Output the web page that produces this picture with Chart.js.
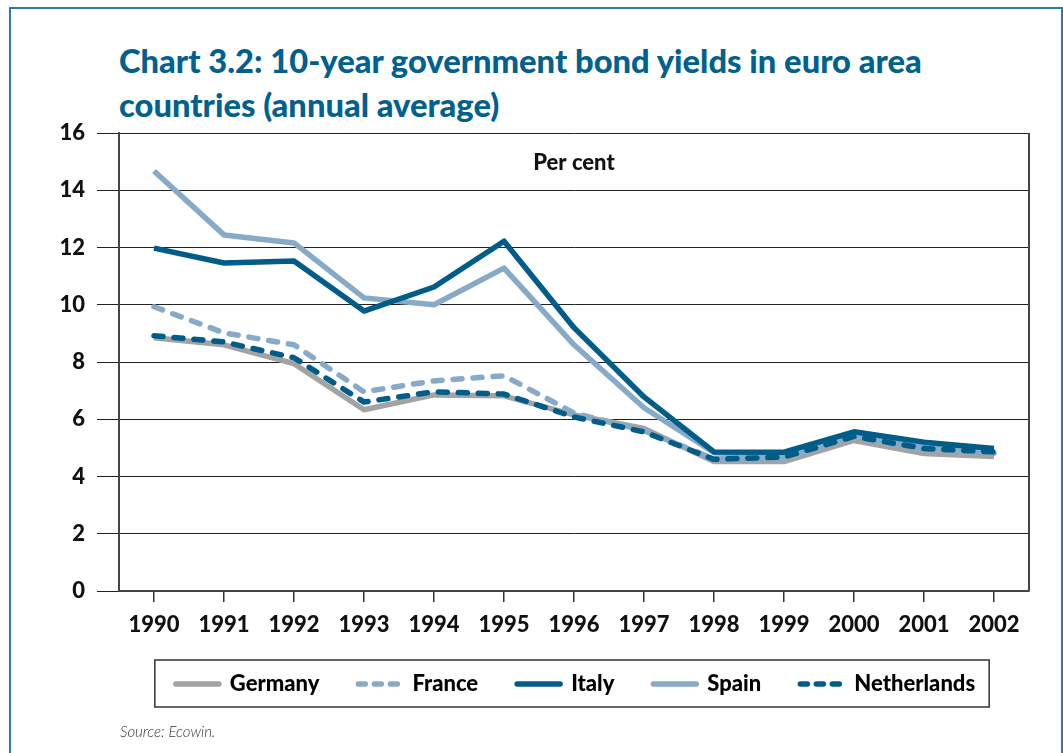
<!DOCTYPE html>
<html>
<head>
<meta charset="utf-8">
<script src="https://cdn.jsdelivr.net/npm/chart.js@4.4.1/dist/chart.umd.min.js"></script>
<style>
  html, body { margin: 0; padding: 0; background: #fff; }
  #wrap { position: relative; width: 1063px; height: 753px; overflow: hidden; }
  #frame { position: absolute; left: 9px; top: 7px; width: 1050px; height: 800px; border: 2px solid #2f7aa3; }
  #title { position: absolute; left: 119px; top: 39px; font-family: Lato, sans-serif; font-weight: 900;
           font-size: 32.7px; line-height: 44px; color: #00608e; }
  #source { position: absolute; left: 120px; top: 722px; font-family: Lato, sans-serif; font-style: italic;
            font-weight: 300; font-size: 15px; color: #333; }
  canvas { position: absolute; left: 0; top: 0; }
</style>
</head>
<body>
<div id="wrap">
  <div id="frame"></div>
  <div id="title">Chart 3.2: 10-year government bond yields in euro area<br>countries (annual average)</div>
  <canvas id="graphCanvas" width="1063" height="753"></canvas>
  <div id="source">Source: Ecowin.</div>
</div>
<script>
var years = ['1990', '1991', '1992', '1993', '1994', '1995', '1996', '1997', '1998', '1999', '2000', '2001', '2002'];
var germany     = [8.85, 8.6, 7.94, 6.33, 6.85, 6.82, 6.15, 5.68, 4.52, 4.52, 5.26, 4.8, 4.7];
var france      = [9.93, 9.02, 8.6, 6.96, 7.34, 7.52, 6.22, 5.6, 4.62, 4.64, 5.4, 4.95, 4.82];
var italy       = [11.98, 11.46, 11.53, 9.78, 10.62, 12.22, 9.2, 6.78, 4.86, 4.85, 5.56, 5.2, 4.98];
var spain       = [14.67, 12.44, 12.16, 10.24, 10.0, 11.28, 8.6, 6.4, 4.83, 4.73, 5.5, 5.1, 4.95];
var netherlands = [8.92, 8.7, 8.15, 6.6, 6.96, 6.88, 6.08, 5.56, 4.6, 4.68, 5.4, 4.98, 4.86];

var darkBlue = '#005c88';
var lightBlue = '#87aac7';
var grey = '#a3a3a3';
var font = 'Lato, sans-serif';

// box around the plot, "Per cent" label, legend keys and a frame around the legend
var extras = {
    id: 'extras',
    afterLayout: function (chart) {
        // centre the legend under the plot area rather than the whole canvas
        chart.legend.left = chart.chartArea.left;
        chart.legend.right = chart.chartArea.right;
    },
    afterDraw: function (chart) {
        var ctx = chart.ctx;
        var a = chart.chartArea;
        ctx.save();
        ctx.strokeStyle = '#444';
        ctx.lineWidth = 2;
        ctx.beginPath();
        ctx.moveTo(a.right, a.top);
        ctx.lineTo(a.right, a.bottom);
        ctx.stroke();

        ctx.fillStyle = '#111';
        ctx.font = '900 22px ' + font;
        ctx.textAlign = 'center';
        ctx.textBaseline = 'middle';
        ctx.fillText('Per cent', (a.left + a.right) / 2, 163);

        var boxes = chart.legend.legendHitBoxes;
        var items = chart.legend.legendItems;
        if (boxes && boxes.length) {
            boxes.forEach(function (b, i) {
                var ds = chart.data.datasets[items[i].datasetIndex];
                var yc = b.top + b.height / 2;
                ctx.strokeStyle = ds.borderColor;
                ctx.lineWidth = ds.borderWidth;
                ctx.lineCap = 'round';
                ctx.setLineDash(ds.borderDash.length ? [7, 9] : []);
                ctx.beginPath();
                ctx.moveTo(b.left + 3, yc);
                ctx.lineTo(b.left + 46, yc);
                ctx.stroke();
            });
            ctx.setLineDash([]);
            var first = boxes[0], last = boxes[boxes.length - 1];
            var x0 = first.left - 18;
            var x1 = last.left + last.width + 14;
            var y0 = first.top + first.height / 2;
            ctx.strokeStyle = '#333';
            ctx.lineWidth = 1.5;
            ctx.strokeRect(x0, y0 - 24, x1 - x0, 47);
        }
        ctx.restore();
    }
};

function makeSet(label, data, color, dash, order) {
    return {
        label: label,
        data: data,
        borderColor: color,
        backgroundColor: color,
        borderWidth: 5.5,
        borderDash: dash,
        borderCapStyle: dash.length ? 'round' : 'butt',
        borderJoinStyle: 'round',
        pointRadius: 0,
        tension: 0,
        fill: false,
        order: order
    };
}

var graphTarget = document.getElementById('graphCanvas');

var lineGraph = new Chart(graphTarget, {
    type: 'line',
    data: {
        labels: years,
        datasets: [
            makeSet('Germany', germany, grey, [], 5),
            makeSet('France', france, lightBlue, [9, 11], 3),
            makeSet('Italy', italy, darkBlue, [], 2),
            makeSet('Spain', spain, lightBlue, [], 4),
            makeSet('Netherlands', netherlands, darkBlue, [9, 11], 1)
        ]
    },
    options: {
        responsive: false,
        animation: false,
        layout: { padding: { top: 133, left: 0, right: 34, bottom: 48 } },
        plugins: {
            title: { display: false },
            tooltip: { enabled: false },
            legend: {
                position: 'bottom',
                labels: {
                    sort: function (a, b) { return a.datasetIndex - b.datasetIndex; },
                    generateLabels: function (chart) {
                        return chart.data.datasets.map(function (ds, i) {
                            return { text: ds.label, datasetIndex: i, fillStyle: 'rgba(0,0,0,0)',
                                     strokeStyle: 'rgba(0,0,0,0)', lineWidth: 0, hidden: false };
                        });
                    },
                    boxWidth: 46,
                    boxHeight: 22,
                    padding: 36,
                    color: '#111',
                    font: { family: font, size: 22, weight: '900' }
                }
            }
        },
        scales: {
            x: {
                offset: true,
                afterFit: function (scale) { scale.height = 46; },
                grid: { offset: false, drawOnChartArea: false, tickLength: 11, color: '#333', lineWidth: 1.5 },
                border: { color: '#444', width: 2 },
                ticks: { color: '#111', padding: 10, font: { family: font, size: 22, weight: '900' } }
            },
            y: {
                min: 0,
                max: 16,
                afterFit: function (scale) { scale.width = 119; },
                ticks: { stepSize: 2, color: '#111', padding: 12, font: { family: font, size: 22, weight: '900' } },
                grid: { color: '#222', lineWidth: 1, tickLength: 22 },
                border: { color: '#444', width: 2 }
            }
        }
    },
    plugins: [extras]
});
</script>
</body>
</html>
